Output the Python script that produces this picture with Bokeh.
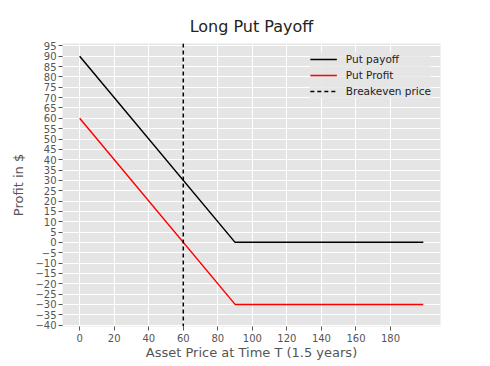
from bokeh.plotting import figure
from bokeh.embed import file_html
from bokeh.resources import INLINE
from bokeh.models import Range1d, FixedTicker, Span, Legend, LegendItem

# Data
asset_price = [0, 90, 199]
put_payoff = [90, 0, 0]
put_profit = [60, -30, -30]
breakeven = 60
x_ticks = [0, 20, 40, 60, 80, 100, 120, 140, 160, 180]
y_ticks = list(range(-40, 100, 5))

FONT = "DejaVu Sans"
GRAY = "#555555"

p = figure(width=482, height=362, output_backend="svg", toolbar_location=None,
           x_range=Range1d(-9.95, 208.95), y_range=Range1d(-40.7, 96.2),
           min_border_left=62, min_border_right=42, min_border_top=43, min_border_bottom=34)

p.background_fill_color = "#E5E5E5"
p.border_fill_color = "white"
p.outline_line_color = None

p.title.text = "Long Put Payoff"
p.title.text_font = FONT
p.title.text_font_size = "16px"
p.title.text_font_style = "normal"
p.title.text_color = "#222222"
p.title.align = "center"
p.title.offset = 0
p.title.standoff = 16

p.xaxis.ticker = FixedTicker(ticks=x_ticks)
p.yaxis.ticker = FixedTicker(ticks=y_ticks)
p.yaxis.major_label_overrides = {v: (str(v).replace("-", "\u2212")) for v in y_ticks}

for ax in (p.xaxis[0], p.yaxis[0]):
    ax.axis_line_color = None
    ax.major_tick_line_color = GRAY
    ax.major_tick_in = 0
    ax.major_tick_out = 4
    ax.minor_tick_line_color = None
    ax.major_label_text_font = FONT
    ax.major_label_text_font_size = "10px"
    ax.major_label_text_color = GRAY
    ax.axis_label_text_font = FONT
    ax.axis_label_text_font_size = "13px"
    ax.axis_label_text_font_style = "normal"
    ax.axis_label_text_color = GRAY
p.xaxis.axis_label = "Asset Price at Time T (1.5 years)"
p.yaxis.axis_label = "Profit in $"
p.xaxis.major_label_standoff = 3
p.yaxis.major_label_standoff = 2
p.xaxis.axis_label_standoff = 0
p.yaxis.axis_label_standoff = 6

p.grid.grid_line_color = "white"
p.grid.grid_line_width = 1

r1 = p.line(asset_price, put_payoff, line_color="black", line_width=1.5)
r2 = p.line(asset_price, put_profit, line_color="red", line_width=1.5)
span = Span(location=breakeven, dimension="height", line_color="black",
            line_width=1.5, line_dash="4 3")
p.add_layout(span)
# proxy renderer for legend of breakeven
r3 = p.line([breakeven, breakeven], [-1000, -1001], line_color="black",
            line_width=1.5, line_dash="4 3")

legend = Legend(items=[LegendItem(label="Put payoff", renderers=[r1]),
                       LegendItem(label="Put Profit", renderers=[r2]),
                       LegendItem(label="Breakeven price", renderers=[r3])],
                location="top_right")
legend.background_fill_color = "#E5E5E5"
legend.background_fill_alpha = 0.8
legend.border_line_color = None
legend.label_text_font = FONT
legend.label_text_font_size = "10.5px"
legend.label_text_color = "#222222"
legend.glyph_width = 27
legend.glyph_height = 14
legend.label_height = 14
legend.spacing = 2
legend.padding = 6
legend.margin = 9
legend.label_standoff = 9
p.add_layout(legend)

open("out.html", "w").write(file_html(p, INLINE))
